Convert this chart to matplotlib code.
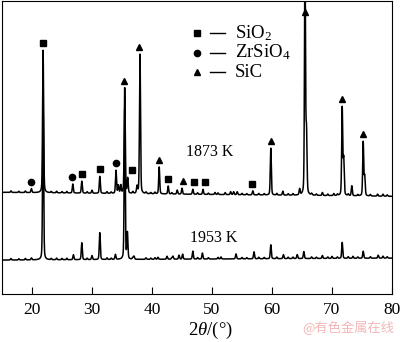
import matplotlib.pyplot as plt
import numpy as np

plt.rcParams['font.family'] = ['Liberation Serif', 'DejaVu Serif']
plt.rcParams['mathtext.fontset'] = 'custom'
plt.rcParams['mathtext.rm'] = 'Liberation Serif'
plt.rcParams['mathtext.it'] = 'Liberation Serif:italic'

##########   XRD patterns, peaks (2theta, height a.u.)

pos_1873 = [19.9, 21.85, 26.8, 28.3, 30.0, 31.3, 34.0, 34.4, 34.8, 35.45, 35.95, 37.5, 38.0,
            41.2, 42.7, 44.2, 45.0, 46.8, 48.5, 50.5, 52.2, 53.1, 53.6, 54.2, 56.8, 59.8,
            61.8, 64.6, 65.5, 65.75, 68.4, 70.3, 71.7, 71.95, 73.3, 75.2, 75.45, 77.6, 78.5]
hgt_1873 = [4, 143, 9, 12, 3, 17, 23, 8, 8, 106, 15, 7, 140,
            27, 8, 4, 6, 5, 5, 2, 2, 3, 3, 3, 4, 47,
            4, 6, 240, 60, 3, 2, 88, 36, 10, 54, 19, 2, 2]

pos_1953 = [19.9, 21.85, 26.9, 28.3, 30.0, 31.3, 33.9, 35.45, 35.9, 37.0, 41.0, 42.5, 43.5,
            44.5, 45.1, 46.8, 48.4, 51.5, 54.0, 57.0, 59.8, 61.9, 64.2, 65.3, 68.4, 70.0,
            71.7, 73.5, 75.2, 77.7, 78.5]
hgt_1953 = [2, 160, 5, 17, 4, 27, 5, 150, 26, 3, 2, 3, 3,
            4, 5, 8, 6, 2, 5, 7, 14, 4, 4, 7, 3, 2,
            16, 2, 7, 3, 2]

# small wiggles of the background, same for both scans
ripple_x = [16.5, 17.8, 18.9, 23.2, 24.1, 25.0, 25.8, 29.2, 32.5, 33.2, 36.8, 39.0, 39.8,
            40.5, 43.3, 47.6, 49.4, 51.0, 55.0, 55.8, 57.8, 58.7, 60.8, 62.7, 63.5, 66.6,
            67.4, 69.3, 70.9, 72.7, 74.3, 76.4, 79.2]
ripple_h = [1.5, 1.2, 1.5, 1.2, 1.6, 1.3, 1.5, 1.4, 1.6, 1.3, 1.8, 1.5, 1.2,
            1.6, 1.4, 1.5, 1.3, 1.6, 1.4, 1.2, 1.5, 1.3, 1.6, 1.4, 1.5, 1.6,
            1.3, 1.5, 1.4, 1.6, 1.3, 1.5, 1.4]

base_1873 = [102, 98]   # baseline at 15 and 80 deg
base_1953 = [34, 36]

# phase markers on the 1873 K pattern
sio2_x = [21.8, 28.4, 31.3, 36.6, 42.7, 47.0, 48.8, 56.7]
zrsio4_x = [19.8, 26.6, 34.0]
sic_x = [35.3, 37.8, 41.2, 45.2, 59.8, 65.5, 71.7, 75.2]

tt = np.arange(15, 80.001, 0.01)
sig = 0.085   # gaussian part
gam = 0.1     # lorentzian part
eta = 0.3


def pattern(pos, hgt, base):
    y = np.interp(tt, [15, 80], base)
    for p, h in zip(list(pos) + ripple_x, list(hgt) + ripple_h):
        d = tt - p
        g = np.exp(-0.5 * (d / sig)**2)
        l = gam**2 / (d**2 + gam**2)
        y = y + h * ((1 - eta) * g + eta * l)
    return y


y1873 = pattern(pos_1873, hgt_1873, base_1873)
y1953 = pattern(pos_1953, hgt_1953, base_1953)

fig = plt.figure(figsize=(4.0, 3.42), dpi=100)
ax = fig.add_axes([0.005, 0.1404, 0.975, 0.8566])

ax.plot(tt, y1953, color='black', lw=1.1)
ax.plot(tt, y1873, color='black', lw=1.1)

ytop = 294


def mark(xs, marker, ms):
    pk = np.array(pos_1873)
    ys = []
    for x in xs:
        p = pk[np.argmin(np.abs(pk - x))]
        ys.append(min(np.interp(p, tt, y1873) + 7, ytop - 11))
    ax.plot(xs, ys, ls='none', marker=marker, ms=ms, color='black')


mark(sio2_x, 's', 4.2)
mark(zrsio4_x, 'o', 4.5)
mark(sic_x, '^', 4.8)

ax.set_xlim(15, 80)
ax.set_ylim(0, ytop)
ax.set_xticks([20, 30, 40, 50, 60, 70, 80])
ax.set_yticks([])
ax.tick_params(axis='x', direction='in', length=5, width=0.8, pad=6, labelsize=12.5)
ax.set_xlabel(r'2$\mathit{\theta}$/(°)', fontsize=13.5, labelpad=1)
ax.xaxis.set_label_coords(0.535, -0.09)

ax.text(0.533, 0.485, '1873 K', transform=ax.transAxes, fontsize=11.5, ha='center', va='center')
ax.text(0.542, 0.19, '1953 K', transform=ax.transAxes, fontsize=11.5, ha='center', va='center')

# legend drawn by hand: marker, dash, name
names = ['SiO$_2$', 'ZrSiO$_4$', 'SiC']
marks = ['s', 'o', '^']
for i, (nm, mk) in enumerate(zip(names, marks)):
    yy = 0.891 - i * 0.067
    ax.plot([0.5], [yy], marker=mk, ms=4.5, color='black', transform=ax.transAxes)
    ax.plot([0.533, 0.572], [yy, yy], color='black', lw=1.0, transform=ax.transAxes)
    ax.text(0.597, yy, nm, transform=ax.transAxes, fontsize=13.5, va='center', ha='left')

fig.text(0.985, 0.02, '@有色金属在线', color='#f2b8b8', fontsize=9.5, ha='right', va='bottom',
         family=['Noto Sans CJK SC', 'DejaVu Sans'])

plt.savefig('out.png', dpi=100)
